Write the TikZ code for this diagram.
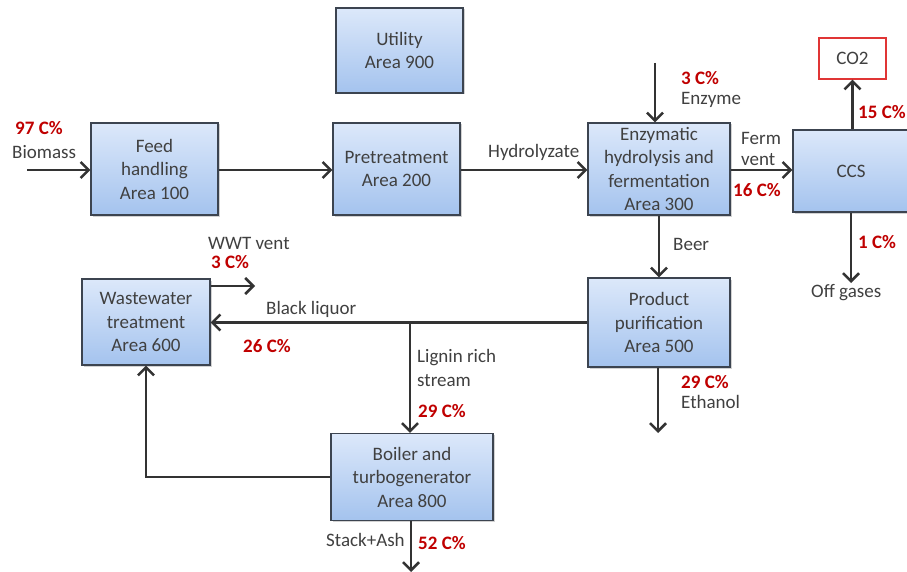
\documentclass[tikz,border=0pt]{standalone}
\usepackage{fontspec}
\setmainfont{Carlito}
\usetikzlibrary{arrows.meta,shadows}
\definecolor{txt}{HTML}{404040}
\definecolor{redc}{HTML}{C00000}
\definecolor{boxtop}{HTML}{DCE8FA}
\definecolor{boxbot}{HTML}{A4C3EE}
\definecolor{boxline}{HTML}{3C4450}
\definecolor{arr}{HTML}{333333}
\definecolor{co2red}{HTML}{E03535}
\tikzset{
  area/.style={rectangle, draw=boxline, line width=1.3pt, top color=boxtop, bottom color=boxbot,
    align=center, text=txt, font=\fontsize{19}{23.5}\selectfont, inner sep=0pt,
    drop shadow={shadow xshift=1.5pt, shadow yshift=-1.5pt, opacity=0.35, fill=gray}},
  flow/.style={draw=arr, line width=2.7pt, -{Straight Barb[length=8pt,width=16pt,line width=2.5pt]}},
  lbl/.style={text=txt, font=\fontsize{19}{22}\selectfont, inner sep=0pt, align=left},
  pct/.style={text=redc, font=\bfseries\fontsize{19}{22}\selectfont, inner sep=0pt}
}
\begin{document}
\begin{tikzpicture}[x=1pt,y=-1pt]
\clip (0,0) rectangle (907,572);
\fill[white] (0,0) rectangle (907,572);

% boxes
\node[area, minimum width=127, minimum height=85] (util) at (399.5,50.5) {Utility\\Area 900};
\node[area, minimum width=127, minimum height=92] (feed) at (154.5,169) {Feed\\handling\\Area 100};
\node[area, minimum width=127, minimum height=92] (pre) at (396.5,169) {Pretreatment\\Area 200};
\node[area, minimum width=142, minimum height=92] (enz) at (659,169) {Enzymatic\\hydrolysis and\\fermentation\\Area 300};
\node[area, minimum width=122, minimum height=82] (ccs) at (854,171) {};
\node[text=txt, font=\fontsize{19}{22}\selectfont] (ccslbl) at (851,171) {CCS};
\node[rectangle, draw=co2red, line width=1.3pt, fill=white, minimum width=67, minimum height=41,
      text=txt, font=\fontsize{19}{22}\selectfont, inner sep=0pt] (co2) at (852.5,58.5) {CO2};
\node[area, minimum width=142, minimum height=89] (prod) at (659,322.5) {Product\\purification\\Area 500};
\node[area, minimum width=128, minimum height=86] (wwt) at (146,322) {Wastewater\\treatment\\Area 600};
\node[area, minimum width=162, minimum height=87] (boil) at (412,477) {Boiler and\\turbogenerator\\Area 800};

% free ends
\coordinate (bio) at (27,170);
\coordinate (enzin) at (655,63);
\coordinate (off) at (851,283);
\coordinate (eth) at (658,433);
\coordinate (br) at (410,322);
\coordinate (ventend) at (255,286);
\coordinate (stack) at (411,572);

% connectors
\draw[flow] (bio) -- (bio -| feed.west);
\draw[flow] (feed.east |- bio) -- (pre.west |- bio);
\draw[flow] (pre.east |- bio) -- (enz.west |- bio);
\draw[flow] (enzin) -- (enzin |- enz.north);
\draw[flow] (enz.east |- bio) -- (ccs.west |- bio);
\draw[flow] (ccs.north -| co2.south) -- (co2.south);
\draw[flow] (off |- ccs.south) -- (off);
\draw[flow] (enz.south) -- (prod.north);
\draw[flow] (prod.west) -- (wwt.east |- prod.west);
\draw[flow] (br) -- (br |- boil.north);
\draw[flow] (eth |- prod.south) -- (eth);
\draw[flow] (boil.west) -| (wwt.south);
\draw[flow] (wwt.east |- ventend) -- (ventend);
\draw[flow] (stack |- boil.south) -- (stack);

% labels
\node[pct, anchor=west] (p97) at (15,128) {97 C\%};
\node[lbl, anchor=west] (lbio) at (12,152) {Biomass};
\node[lbl, anchor=west] (lhyd) at (488,152) {Hydrolyzate};
\node[pct, anchor=west] (p3e) at (681,78) {3 C\%};
\node[lbl, anchor=west] (lenzy) at (681,100) {Enzyme};
\node[lbl, anchor=west] (lferm) at (741,138) {Ferm};
\node[lbl, anchor=west] (lvent) at (741,160) {vent};
\node[pct, anchor=west] (p16) at (733,190) {16 C\%};
\node[pct, anchor=west] (p15) at (858,112) {15 C\%};
\node[pct, anchor=west] (p1) at (858,242) {1 C\%};
\node[lbl, anchor=west] (loff) at (811,293) {Off gases};
\node[lbl, anchor=west] (lbeer) at (673,244) {Beer};
\node[lbl, anchor=west] (lwwt) at (208,243) {WWT vent};
\node[pct, anchor=west] (p3w) at (211,262) {3 C\%};
\node[lbl, anchor=west] (lblack) at (266,309) {Black liquor};
\node[pct, anchor=west] (p26) at (243,346) {26 C\%};
\node[lbl, anchor=west] (llig) at (417,358) {Lignin rich};
\node[lbl, anchor=west] (lstream) at (417,381) {stream};
\node[pct, anchor=west] (p29l) at (418,411) {29 C\%};
\node[pct, anchor=west] (p29e) at (681,382) {29 C\%};
\node[lbl, anchor=west] (leth) at (681,402) {Ethanol};
\node[lbl, anchor=west] (lstack) at (326,540) {Stack+Ash};
\node[pct, anchor=west] (p52) at (418,543) {52 C\%};
\end{tikzpicture}
\end{document}
